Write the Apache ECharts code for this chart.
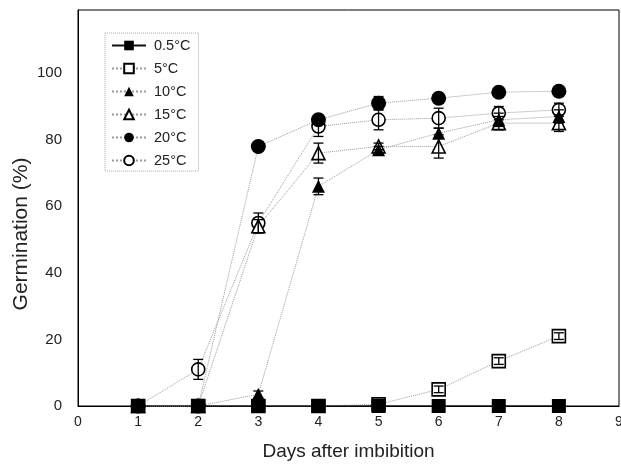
<!DOCTYPE html>
<html lang="en">
  <head>
    <meta charset="UTF-8" />
    <title>Germination vs days</title>
    <script src="https://cdn.jsdelivr.net/npm/echarts/dist/echarts.min.js"></script>
    <style>
      html, body { margin: 0; padding: 0; background: #fff; }
      #main { width: 621px; height: 468px; }
    </style>
  </head>
  <body>
    <div id="main"></div>
    <script>
      // days after imbibition
      const days = [1, 2, 3, 4, 5, 6, 7, 8]
      const xTicks = [0, 1, 2, 3, 4, 5, 6, 7, 8, 9]

      // germination (%) per temperature
      const g05 = [0, 0, 0, 0, 0, 0, 0, 0]
      const g5 = [0, 0, 0, 0, 0.5, 5, 13.5, 21]
      const g10 = [0, 0, 3.5, 66, 77, 82, 86, 87]
      const g15 = [0, 0, 54, 76, 78, 78, 85, 85]
      const g20 = [0, 0, 78, 86, 91, 92.5, 94.3, 94.6]
      const g25 = [0, 11, 55, 84, 86, 86.5, 88, 89]

      // error bars (+/-)
      const e05 = [0, 0, 0, 0, 0, 0, 0, 0]
      const e5 = [0, 0, 0, 0, 0.5, 1, 1, 1]
      const e10 = [0, 0, 1, 2.5, 1, 1.5, 2, 2]
      const e15 = [0, 0, 2, 3, 1, 3.5, 2, 2.5]
      const e20 = [0, 0, 0, 1, 2, 1, 1, 1]
      const e25 = [0, 3, 3, 3, 3, 3, 2, 2]

      const names = ["0.5°C", "5°C", "10°C", "15°C", "20°C", "25°C"]
      const values = [g05, g5, g10, g15, g20, g25]
      const errors = [e05, e5, e10, e15, e20, e25]
      const symbols = ["rect", "rect", "triangle", "triangle", "circle", "circle"]
      const sizes = [14, 13, 13, 13, 15, 13]
      const filled = [true, false, true, false, true, false]

      const font = "Liberation Sans, Arial, sans-serif"

      const lineSeries = names.map((name, i) => ({
        name: name,
        type: "line",
        data: days.map((d, j) => [d, values[i][j]]),
        symbol: symbols[i],
        symbolSize: sizes[i],
        lineStyle: { color: i === 0 ? "#111" : "#9a9a9a", width: 1, type: i === 0 ? "solid" : "dotted" },
        itemStyle: filled[i]
          ? { color: "#000", borderColor: "#000", borderWidth: 0 }
          : { color: "#fff", borderColor: "#000", borderWidth: 1.6 },
        z: 3,
        animation: false,
      }))

      const errSeries = names.map((name, i) => ({
        type: "custom",
        data: days.map((d, j) => [d, values[i][j], errors[i][j]]),
        renderItem: (params, api) => {
          const x = api.value(0)
          const y = api.value(1)
          const e = api.value(2)
          if (!e) return
          const hi = api.coord([x, y + e])
          const lo = api.coord([x, y - e])
          const w = 5
          const style = { stroke: "#000", lineWidth: 1.3 }
          return {
            type: "group",
            children: [
              { type: "line", shape: { x1: hi[0], y1: hi[1], x2: lo[0], y2: lo[1] }, style },
              { type: "line", shape: { x1: hi[0] - w, y1: hi[1], x2: hi[0] + w, y2: hi[1] }, style },
              { type: "line", shape: { x1: lo[0] - w, y1: lo[1], x2: lo[0] + w, y2: lo[1] }, style },
            ],
          }
        },
        z: 4,
        animation: false,
        silent: true,
      }))

      const chart = echarts.init(document.getElementById("main"))
      chart.setOption({
        backgroundColor: "#fff",
        animation: false,
        grid: {
          left: 78,
          right: 2,
          top: 10,
          bottom: 62,
          outerBoundsMode: "none",
          show: true,
          borderColor: "#000",
          borderWidth: 1,
        },
        legend: {
          orient: "vertical",
          left: 105,
          top: 33,
          data: names,
          itemWidth: 34,
          itemHeight: 12,
          itemGap: 8,
          padding: [5, 8, 3, 6],
          borderColor: "#aaa",
          borderWidth: 1,
          borderType: "dotted",
          textStyle: { fontFamily: font, fontSize: 14.5, color: "#222", padding: [0, 0, 0, 3] },
        },
        xAxis: {
          type: "value",
          min: xTicks[0],
          max: xTicks[xTicks.length - 1],
          interval: 1,
          name: "Days after imbibition",
          nameLocation: "middle",
          nameGap: 36,
          nameMoveOverlap: false,
          nameTextStyle: { fontFamily: font, fontSize: 19, color: "#222", verticalAlign: "top" },
          axisLine: { lineStyle: { color: "#000", width: 1 } },
          axisTick: { show: false },
          splitLine: { show: false },
          axisLabel: { fontFamily: font, fontSize: 14, color: "#222", margin: 9 },
        },
        yAxis: {
          type: "value",
          min: 0,
          max: 119,
          interval: 20,
          name: "Germination (%)",
          nameLocation: "middle",
          nameGap: 46,
          nameMoveOverlap: false,
          nameTextStyle: { fontFamily: font, fontSize: 21, color: "#222", padding: [0, 52, 0, 0] },
          axisLine: { show: true, lineStyle: { color: "#000", width: 1 } },
          axisTick: { show: false },
          splitLine: { show: false },
          axisLabel: {
            fontFamily: font,
            fontSize: 15,
            color: "#222",
            margin: 16,
            formatter: (v) => (v > 100 ? "" : String(v)),
          },
        },
        series: [...lineSeries.reverse(), ...errSeries],
      })
    </script>
  </body>
</html>
